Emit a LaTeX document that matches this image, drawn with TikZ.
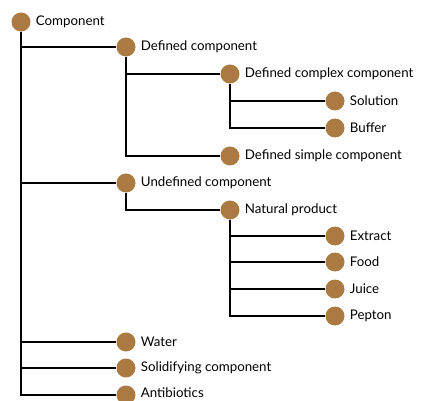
\documentclass[tikz,border=0pt]{standalone}
\usepackage{fontspec}
\setmainfont{Lato}
\definecolor{dotc}{RGB}{170,122,66}
\begin{document}
\begin{tikzpicture}[x=1pt,y=-1pt,
  dot/.style={circle, fill=dotc, minimum size=19pt, inner sep=0pt},
  lbl/.style={anchor=west, inner sep=0pt, font=\fontsize{13.3}{15}\selectfont},
  conn/.style={line width=2pt, black}]
\useasboundingbox (0,0) rectangle (426,401);
% dots
\node[dot] (comp) at (21,22) {};
\node[dot] (defc) at (126,47) {};
\node[dot] (dcc)  at (230,74) {};
\node[dot] (sol)  at (335,101) {};
\node[dot] (buf)  at (335,128) {};
\node[dot] (dsc)  at (230,156) {};
\node[dot] (udc)  at (126,183) {};
\node[dot] (nat)  at (230,210) {};
\node[dot] (ext)  at (335,236) {};
\node[dot] (food) at (335,262) {};
\node[dot] (juice) at (335,289) {};
\node[dot] (pep)  at (335,316) {};
\node[dot] (wat)  at (126,342) {};
\node[dot] (sld)  at (126,368) {};
\node[dot] (anti) at (126,395) {};
% labels
\node[lbl] (tcomp) at ([xshift=5pt]comp.east) {Component};
\node[lbl] (tdefc) at ([xshift=5pt]defc.east) {Defined component};
\node[lbl] (tdcc) at ([xshift=5pt]dcc.east) {Defined complex component};
\node[lbl] (tsol) at ([xshift=5pt]sol.east) {Solution};
\node[lbl] (tbuf) at ([xshift=5pt]buf.east) {Buffer};
\node[lbl] (tdsc) at ([xshift=5pt]dsc.east) {Defined simple component};
\node[lbl] (tudc) at ([xshift=5pt]udc.east) {Undefined component};
\node[lbl] (tnat) at ([xshift=5pt]nat.east) {Natural product};
\node[lbl] (text) at ([xshift=5pt]ext.east) {Extract};
\node[lbl] (tfood) at ([xshift=5pt]food.east) {Food};
\node[lbl] (tjuice) at ([xshift=5pt]juice.east) {Juice};
\node[lbl] (tpep) at ([xshift=5pt]pep.east) {Pepton};
\node[lbl] (twat) at ([xshift=5pt]wat.east) {Water};
\node[lbl] (tsld) at ([xshift=5pt]sld.east) {Solidifying component};
\node[lbl] (tanti) at ([xshift=5pt,yshift=2pt]anti.east) {Antibiotics};
% connectors
\foreach \p/\c in {comp/defc, comp/udc, comp/wat, comp/sld, comp/anti,
  defc/dcc, defc/dsc, dcc/sol, dcc/buf, udc/nat,
  nat/ext, nat/food, nat/juice, nat/pep}
  \draw[conn] (\p.south) |- (\c.west);
\end{tikzpicture}
\end{document}
